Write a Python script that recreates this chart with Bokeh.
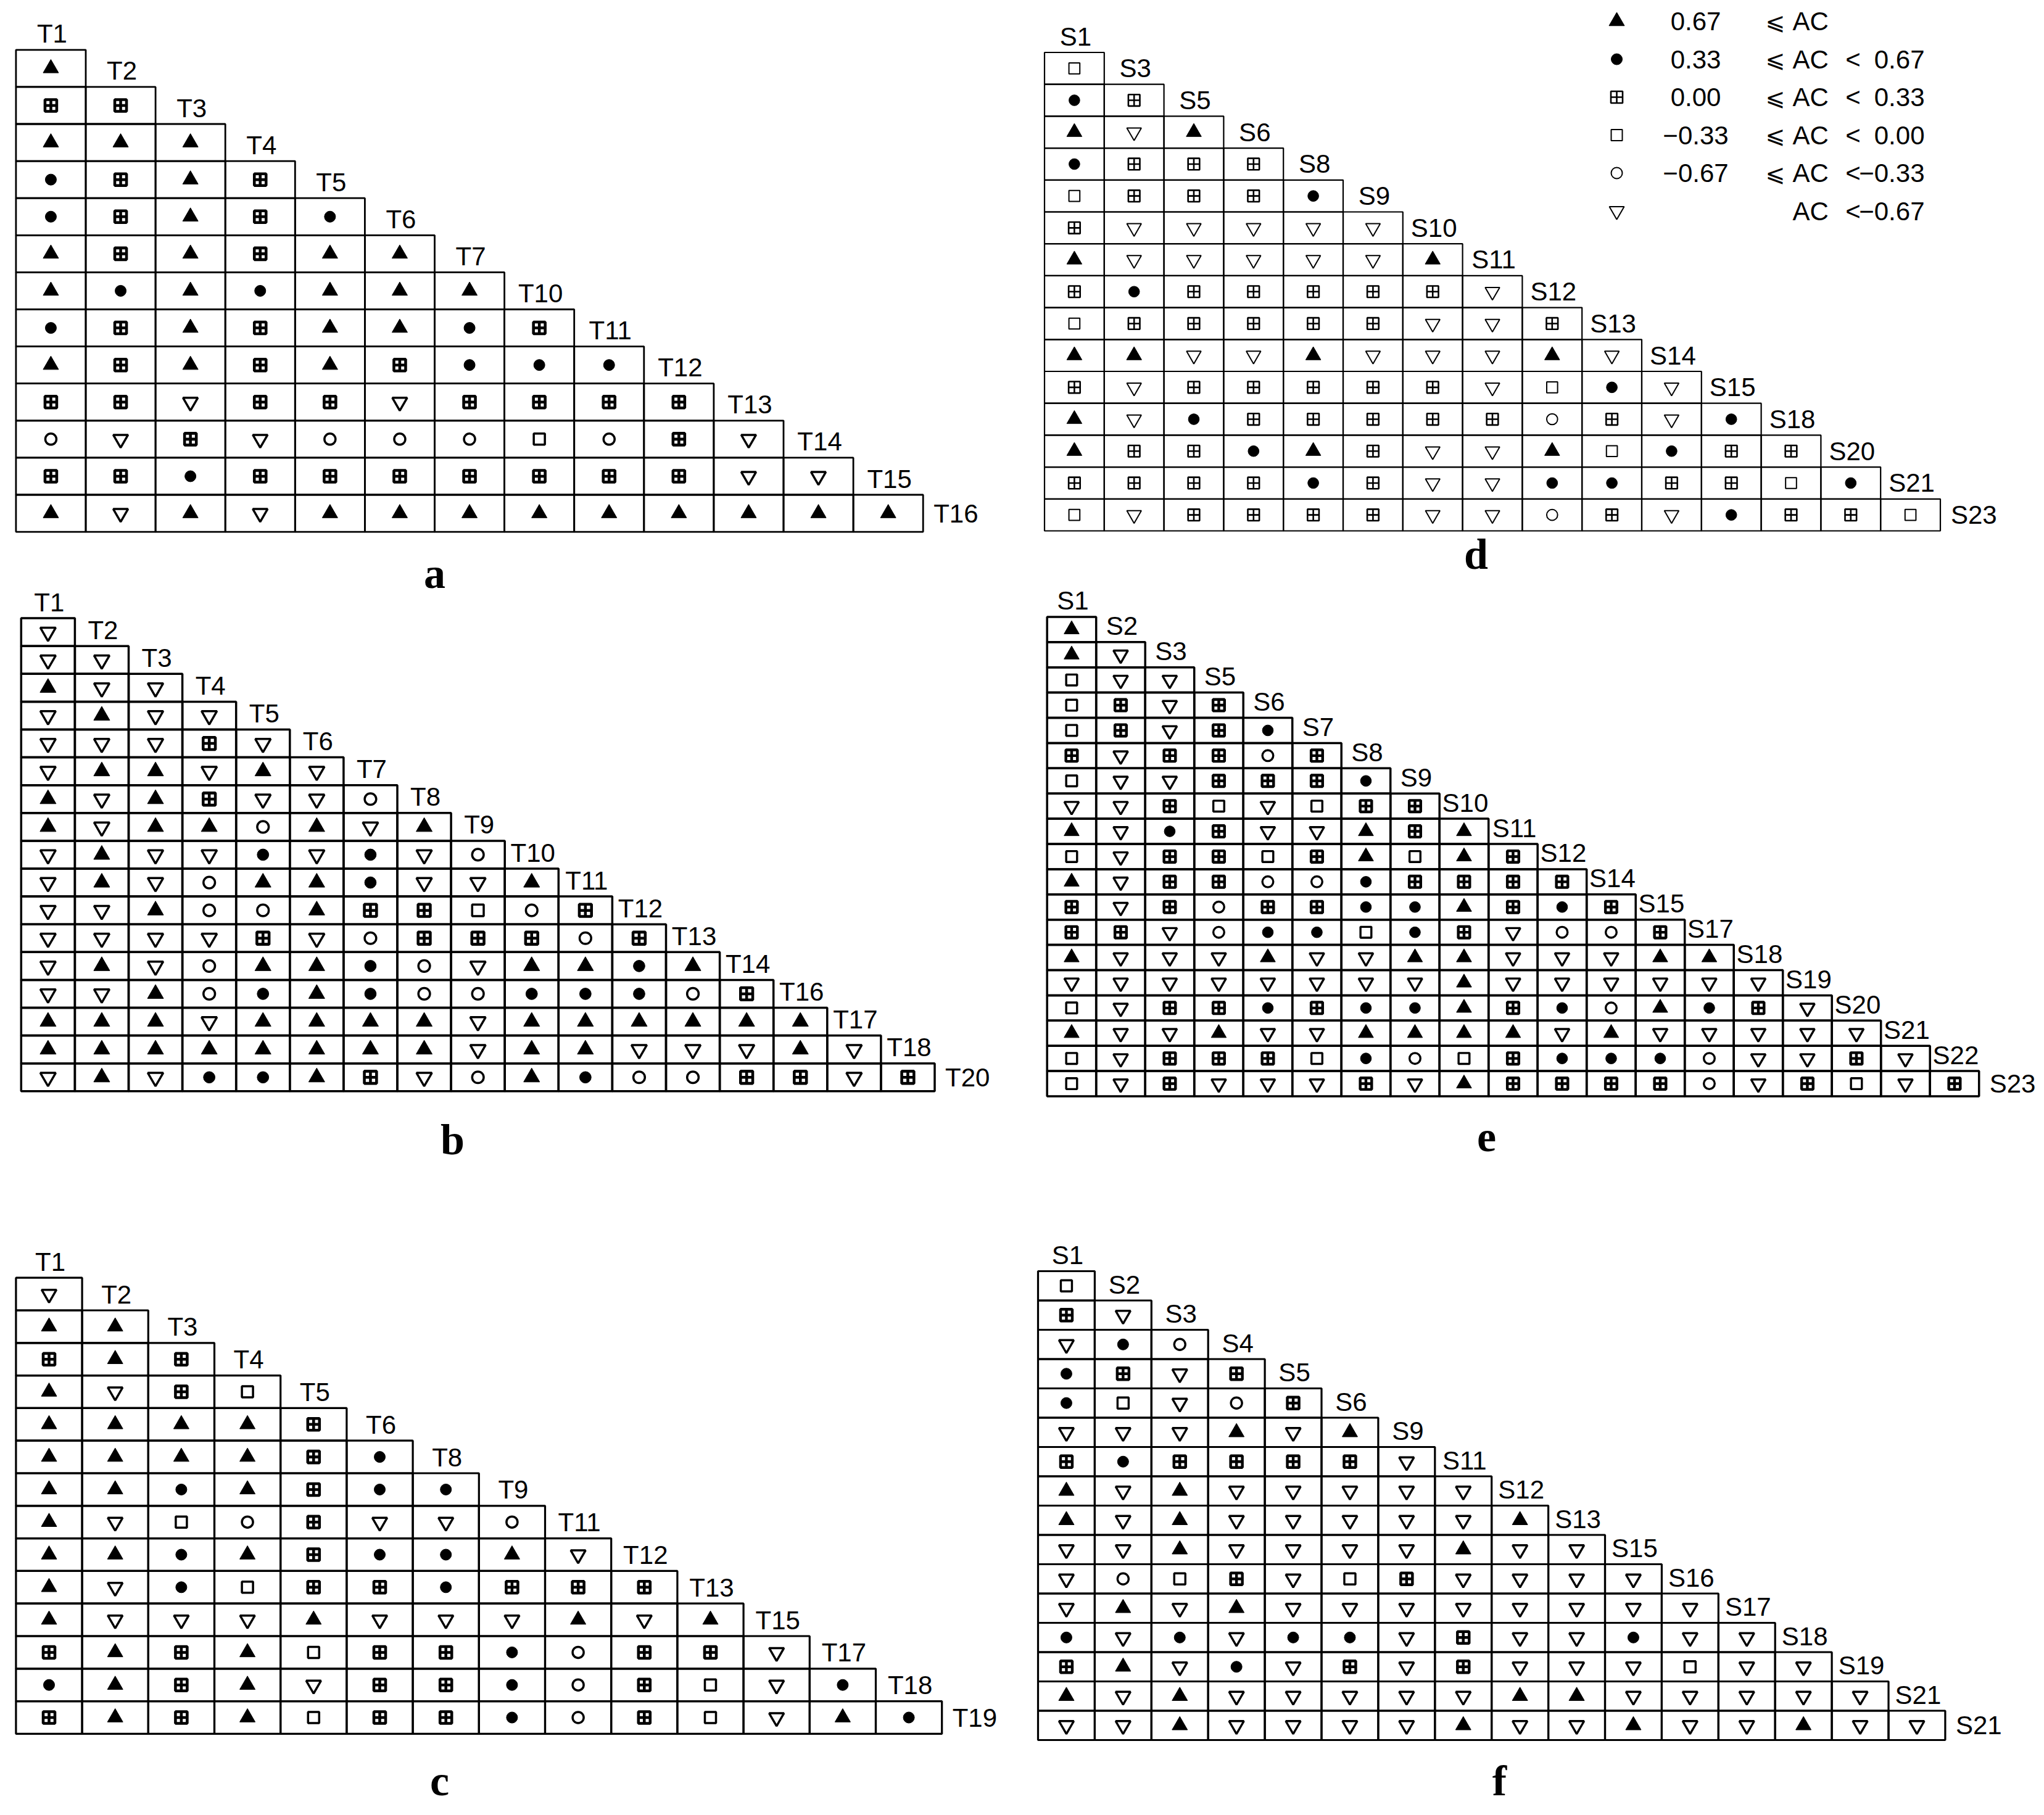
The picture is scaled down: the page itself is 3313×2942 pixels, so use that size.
from bokeh.plotting import figure
from bokeh.models import Range1d
from bokeh.embed import file_html
from bokeh.resources import INLINE
from bokeh.core.properties import value

# Codes:  A: 0.67 <= AC          (filled triangle)
#         D: 0.33 <= AC < 0.67   (filled dot)
#         G: 0.00 <= AC < 0.33   (grid square)
#         S: -0.33 <= AC < 0.00  (open square)
#         O: -0.67 <= AC < -0.33 (open circle)
#         V: AC < -0.67          (open down triangle)

a_labels = ["T1", "T2", "T3", "T4", "T5", "T6", "T7", "T10", "T11", "T12", "T13", "T14", "T15", "T16"]
a_rows = ["A", "GG", "AAA", "DGAG", "DGAGD", "AGAGAA", "ADADAAA", "DGAGAADG", "AGAGAGDDD",
          "GGVGGVGGGG", "OVGVOOOSOGV", "GGDGGGGGGGVV", "AVAVAAAAAAAAA"]

b_labels = ["T1", "T2", "T3", "T4", "T5", "T6", "T7", "T8", "T9", "T10", "T11", "T12", "T13", "T14",
            "T16", "T17", "T18", "T20"]
b_rows = ["V", "VV", "AVV", "VAVV", "VVVGV", "VAAVAV", "AVAGVVO", "AVAAOAVA", "VAVVDVDVO",
          "VAVOAADVVA", "VVAOOAGGSOG", "VVVVGVOGGGOG", "VAVOAADOVAADA", "VVAODADOODDDOG",
          "AAAVAAAAVAAAAAA", "AAAAAAAAVAAVVVAV", "VAVDDAGVOADOOGGVG"]

c_labels = ["T1", "T2", "T3", "T4", "T5", "T6", "T8", "T9", "T11", "T12", "T13", "T15", "T17", "T18", "T19"]
c_rows = ["V", "AA", "GAG", "AVGS", "AAAAG", "AAAAGD", "AADAGDD", "AVSOGVVO", "AADAGDDAV",
          "AVDSGGDGGG", "AVVVAVVVAVA", "GAGASGGDOGGV", "DAGAVGGDOGSVD", "GAGASGGDOGSVAD"]

d_labels = ["S1", "S3", "S5", "S6", "S8", "S9", "S10", "S11", "S12", "S13", "S14", "S15", "S18",
            "S20", "S21", "S23"]
d_rows = ["S", "DG", "AVA", "DGGG", "SGGGD", "GVVVVV", "AVVVVVA", "GDGGGGGV", "SGGGGGVVG",
          "AAVVAVVVAV", "GVGGGGGVSDV", "AVDGGGGGOGVD", "AGGDAGVVASDGG", "GGGGDGVVDDGGSD",
          "SVGGGGVVOGVDGGS"]

e_labels = ["S1", "S2", "S3", "S5", "S6", "S7", "S8", "S9", "S10", "S11", "S12", "S14", "S15", "S17",
            "S18", "S19", "S20", "S21", "S22", "S23"]
e_rows = ["A", "AV", "SVV", "SGVG", "SGVGD", "GVGGOG", "SVVGGGD", "VVGSVSGG", "AVDGVVAGA",
          "SVGGSGASAG", "AVGGOODGGGG", "GVGOGGDDAGDG", "GGVODDSDGVOOG", "AVVVAVVAAVVVAA",
          "VVVVVVVVAVVVVVV", "SVGGDGDDAGDOADGV", "AVVAVVAAAAVAVVVVV", "SVGGGSDOSGDDDOVVGV",
          "SVGVVVGVAGGGGOVGSVG"]

f_labels = ["S1", "S2", "S3", "S4", "S5", "S6", "S9", "S11", "S12", "S13", "S15", "S16", "S17", "S18",
            "S19", "S21", "S21"]
f_rows = ["S", "GV", "VDO", "DGVG", "DSVOG", "VVVAVA", "GDGGGGV", "AVAVVVVV", "AVAVVVVVA",
          "VVAVVVVAVV", "VOSGVSGVVVV", "VAVAVVVVVVVV", "DVDVDDVGVVDVV", "GAVDVGVGVVVSVV",
          "AVAVVVVVAAVVVVV", "VVAVVVVAVVAVVAVV"]

legend_codes = ["A", "D", "G", "S", "O", "V"]
legend_lower = ["0.67", "0.33", "0.00", "\u22120.33", "\u22120.67", ""]
legend_upper = ["", "0.67", "0.33", "0.00", "\u22120.33", "\u22120.67"]

STYLE = {
    "A": dict(marker="triangle", size=25, fill=True, lwk=0.0),
    "D": dict(marker="circle", size=18, fill=True, lwk=0.0),
    "G": dict(marker="square_cross", size=19, fill=False, lwk=1.3),
    "S": dict(marker="square", size=18, fill=False, lwk=1.0),
    "O": dict(marker="circle", size=18, fill=False, lwk=1.0),
    "V": dict(marker="inverted_triangle", size=24, fill=False, lwk=1.0),
}

SANS = value("Liberation Sans")
SERIF = value("Liberation Serif")
LABEL_SIZE = "42px"

W, H = 3305, 2934
p = figure(width=W, height=H, x_range=Range1d(0, W), y_range=Range1d(H, 0),
           output_backend="svg", toolbar_location=None, min_border=0,
           x_axis_location=None, y_axis_location=None)
p.grid.visible = False
p.outline_line_color = None

panels = [
    dict(labels=a_labels, rows=a_rows, x0=25.4, y0=80.3, cw=113.1, ch=60.1, letter="a",
         lx=704, ly=929, s=1.0, lw=2.8, mlw=3.5),
    dict(labels=b_labels, rows=b_rows, x0=33.8, y0=1001.6, cw=87.1, ch=45.1, letter="b",
         lx=733, ly=1847, s=1.04, lw=3.5, mlw=3.5),
    dict(labels=c_labels, rows=c_rows, x0=25.4, y0=2070.7, cw=107.2, ch=52.8, letter="c",
         lx=712, ly=2886, s=1.0, lw=3.2, mlw=3.5),
    dict(labels=d_labels, rows=d_rows, x0=1692.5, y0=84.5, cw=96.8, ch=51.7, letter="d",
         lx=2392, ly=898, s=0.98, lw=2.2, mlw=2.0),
    dict(labels=e_labels, rows=e_rows, x0=1696.7, y0=999.4, cw=79.5, ch=40.9, letter="e",
         lx=2409, ly=1842, s=0.98, lw=3.5, mlw=3.4),
    dict(labels=f_labels, rows=f_rows, x0=1682.0, y0=2060.0, cw=91.9, ch=47.5, letter="f",
         lx=2430, ly=2886, s=1.0, lw=3.2, mlw=3.4),
]


def draw_symbols(xs, ys, codes, scale, mlw):
    for code, st in STYLE.items():
        sel = [k for k, c in enumerate(codes) if c == code]
        if not sel:
            continue
        p.scatter([xs[k] for k in sel], [ys[k] for k in sel], marker=st["marker"],
                  size=st["size"] * scale,
                  fill_color="black" if st["fill"] else None,
                  line_color="black", line_width=(1 if st["fill"] else mlw * st["lwk"]))


for P in panels:
    n = len(P["rows"])
    xs, ys, codes = [], [], []
    for i, row in enumerate(P["rows"]):
        for j, c in enumerate(row):
            xs.append(P["x0"] + (j + 0.5) * P["cw"])
            ys.append(P["y0"] + (i + 0.5) * P["ch"])
            codes.append(c)
    p.rect(xs, ys, width=P["cw"], height=P["ch"], fill_color=None,
           line_color="black", line_width=P["lw"])
    draw_symbols(xs, ys, codes, P["s"], P["mlw"])
    top = P["labels"][:-1]
    tx = [P["x0"] + (j + 0.5) * P["cw"] + 2 for j in range(n)]
    ty = [P["y0"] + j * P["ch"] - 26 for j in range(n)]
    p.text(tx, ty, text=top, text_font=SANS, text_font_size=LABEL_SIZE,
           text_align="center", text_baseline="middle", text_color="black")
    p.text([P["x0"] + n * P["cw"] + 17], [P["y0"] + (n - 0.5) * P["ch"]],
           text=[P["labels"][-1]], text_font=SANS, text_font_size=LABEL_SIZE,
           text_align="left", text_baseline="middle", text_color="black")
    p.text([P["lx"]], [P["ly"]], text=[P["letter"]], text_font=SERIF, text_font_size="70px",
           text_font_style="bold", text_align="center", text_baseline="middle",
           text_color="black")

# legend (top right of panel d)
leg_y = [34 + k * 61.5 for k in range(len(legend_codes))]
leg_x = [2620] * len(legend_codes)
draw_symbols(leg_x, leg_y, legend_codes, 1.0, 2.0)
lo_idx = [k for k in range(len(legend_codes)) if legend_lower[k]]
p.text([2748] * len(lo_idx), [leg_y[k] for k in lo_idx], text=[legend_lower[k] for k in lo_idx],
       text_font=SANS, text_font_size=LABEL_SIZE, text_align="center", text_baseline="middle")
p.text([2877] * len(lo_idx), [leg_y[k] for k in lo_idx], text=["\u2a7d"] * len(lo_idx),
       text_font=value("DejaVu Sans"), text_font_size="38px", text_align="center",
       text_baseline="middle")
p.text([2905] * len(legend_codes), leg_y, text=["AC"] * len(legend_codes),
       text_font=SANS, text_font_size=LABEL_SIZE, text_align="left", text_baseline="middle")
up_idx = [k for k in range(len(legend_codes)) if legend_upper[k]]
p.text([3003] * len(up_idx), [leg_y[k] for k in up_idx], text=["<"] * len(up_idx),
       text_font=SANS, text_font_size=LABEL_SIZE, text_align="center", text_baseline="middle")
p.text([3119] * len(up_idx), [leg_y[k] for k in up_idx], text=[legend_upper[k] for k in up_idx],
       text_font=SANS, text_font_size=LABEL_SIZE, text_align="right", text_baseline="middle")

open("out.html", "w").write(file_html(p, INLINE))
